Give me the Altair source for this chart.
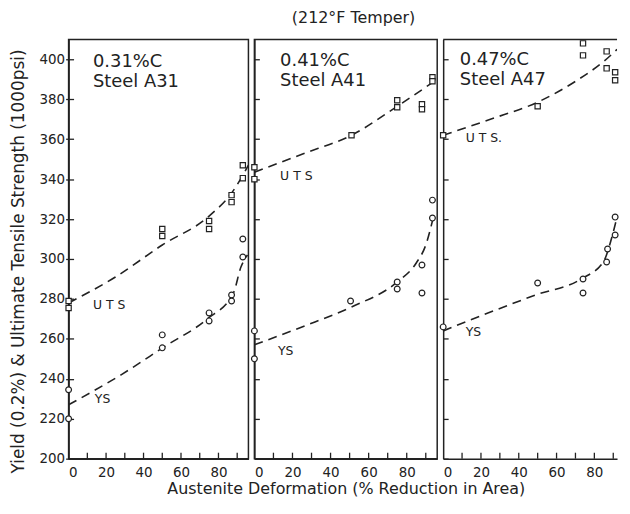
import altair as alt
import pandas as pd

# ---------------- data ----------------
y_ticks = [200, 220, 240, 260, 280, 300, 320, 340, 360, 380, 400]
x_ticks = [0, 10, 20, 30, 40, 50, 60, 70, 80, 90]
x_minor = [10, 20, 30, 40, 50, 60, 70, 80, 90]
x_max = [96, 96, 92]
panel_widths = [181, 184, 175]
PLOT_H = 422

carbon_text = ["0.31%C", "0.41%C", "0.47%C"]
steel_text = ["Steel A31", "Steel A41", "Steel A47"]
label_x = [13, 13.5, 8.8]
carbon_y = [396.2, 396.5, 397]
steel_y = [386.3, 386.5, 387]

uts_text = ["U T S", "U T S", "U T S."]
uts_label_x = [13, 13.5, 11.9]
uts_label_y = [277, 341.6, 360.6]
ys_label_x = [14, 12.4, 11.9]
ys_label_y = [230, 253.7, 263.5]

# measured points (UTS = squares, YS = circles)
a31_uts_x = [0, 0, 50, 50, 75, 75, 87, 87, 93, 93]
a31_uts_y = [279, 275.5, 315, 311.5, 319, 315, 332, 328.5, 347, 340.5]
a31_ys_x = [0, 0, 50, 50, 75, 75, 87, 87, 93, 93]
a31_ys_y = [234.5, 220, 262, 255.5, 273, 269, 282, 279, 310, 301]

a41_uts_x = [0, 0, 51, 75, 75, 88, 88, 93.5, 93.5]
a41_uts_y = [346, 340, 362, 379.5, 376, 377.5, 375, 391, 389]
a41_ys_x = [0, 0, 50.5, 75, 75, 88, 88, 93.5, 93.5]
a41_ys_y = [264, 250, 279, 288.5, 285, 297, 283, 329.5, 320.5]

a47_uts_x = [0, 50, 74, 74, 86.5, 86.5, 91, 91]
a47_uts_y = [362, 376.5, 408, 402, 404, 395.5, 393.5, 389.5]
a47_ys_x = [0, 50, 74, 74, 86.5, 87, 91, 91]
a47_ys_y = [266, 288, 290, 283, 298.5, 305, 312, 321]

# dashed fitted curves
a31_uts_cx = [0, 25, 50, 75, 87, 96]
a31_uts_cy = [278, 291, 307, 321.5, 333, 347]
a31_ys_cx = [0, 28, 51, 74, 88, 92, 95.5]
a31_ys_cy = [227, 242, 256, 270, 283, 296, 302]

a41_uts_cx = [0, 25, 52, 75, 96]
a41_uts_cy = [343.5, 352.5, 362.5, 376.5, 390]
a41_ys_cx = [0, 25, 51, 75, 85, 90, 94]
a41_ys_cy = [257, 266, 276, 288.5, 298, 307, 321]

a47_uts_cx = [0, 25, 51, 70, 85, 92]
a47_uts_cy = [362, 370, 379, 389, 399, 405]
a47_ys_cx = [0, 49, 73, 85, 89, 92]
a47_ys_cy = [264, 282, 290, 299, 310, 321]

points = [
    (a31_uts_x, a31_uts_y, a31_ys_x, a31_ys_y),
    (a41_uts_x, a41_uts_y, a41_ys_x, a41_ys_y),
    (a47_uts_x, a47_uts_y, a47_ys_x, a47_ys_y),
]
curves = [
    (a31_uts_cx, a31_uts_cy, a31_ys_cx, a31_ys_cy),
    (a41_uts_cx, a41_uts_cy, a41_ys_cx, a41_ys_cy),
    (a47_uts_cx, a47_uts_cy, a47_ys_cx, a47_ys_cy),
]

INK = "#222222"
FONT = "DejaVu Sans"
Y_TITLE = "Yield (0.2%) & Ultimate Tensile Strength (1000psi)"
X_TITLE = "Austenite Deformation (% Reduction in Area)"


def make_panel(i):
    first = i == 0
    middle = i == 1
    last = i == 2
    if first:
        yaxis = alt.Axis(values=y_ticks, title=Y_TITLE, titleFontSize=17,
                         titlePadding=12, titleY=223, tickSize=3, labelPadding=1,
                         grid=True, gridDash=[5, 1000])
    else:
        yaxis = alt.Axis(values=y_ticks, title=None, labels=False, ticks=False,
                         tickSize=0, grid=True, gridDash=[5, 1000])
    xaxis = alt.Axis(values=x_ticks, title=X_TITLE if middle else None,
                     titleFontSize=16, titlePadding=2,
                     labelExpr="datum.value % 20 == 0 && datum.value < 90 ? datum.label : ''",
                     ticks=False, tickSize=0, labelPadding=7, grid=False)
    x_enc = alt.X("x:Q", scale=alt.Scale(domain=[0, x_max[i]], nice=False, zero=False), axis=xaxis)
    y_enc = alt.Y("y:Q", scale=alt.Scale(domain=[200, 410], nice=False, zero=False), axis=yaxis)

    ux, uy, yx, yy = points[i]
    ucx, ucy, ycx, ycy = curves[i]
    curve_df = pd.DataFrame({
        "x": ucx + ycx,
        "y": ucy + ycy,
        "series": ["UTS"] * len(ucx) + ["YS"] * len(ycx),
    })
    uts_df = pd.DataFrame({"x": ux, "y": uy})
    ys_df = pd.DataFrame({"x": yx, "y": yy})
    head_df = pd.DataFrame({"x": [label_x[i], label_x[i]],
                            "y": [carbon_y[i], steel_y[i]],
                            "t": [carbon_text[i], steel_text[i]]})
    lab_df = pd.DataFrame({"x": [uts_label_x[i], ys_label_x[i]],
                           "y": [uts_label_y[i], ys_label_y[i]],
                           "t": [uts_text[i], "YS"]})
    tick_df = pd.DataFrame({"x": x_minor, "y": [200] * len(x_minor)})

    ticks = alt.Chart(tick_df).mark_rule(color=INK, strokeWidth=1.3).encode(
        x=x_enc, y=y_enc, y2=alt.value(PLOT_H - 6)
    )
    lines = alt.Chart(curve_df).mark_line(
        color=INK, strokeWidth=1.6, strokeDash=[9, 6], interpolate="monotone", clip=True
    ).encode(x=x_enc, y=y_enc, detail="series:N")
    sq = alt.Chart(uts_df).mark_point(
        shape="square", size=28, filled=True, fill="white", stroke=INK,
        strokeWidth=1.2, opacity=1
    ).encode(x=x_enc, y=y_enc)
    ci = alt.Chart(ys_df).mark_point(
        shape="circle", size=34, filled=True, fill="white", stroke=INK,
        strokeWidth=1.2, opacity=1
    ).encode(x=x_enc, y=y_enc)
    head = alt.Chart(head_df).mark_text(
        align="left", baseline="alphabetic", fontSize=18, font=FONT, color=INK
    ).encode(x=x_enc, y=y_enc, text="t:N")
    lab = alt.Chart(lab_df).mark_text(
        align="left", baseline="middle", fontSize=12.5, font=FONT, color=INK
    ).encode(x=x_enc, y=y_enc, text="t:N")

    layers = [ticks, lines, sq, ci, head, lab]
    if last:
        top_df = pd.DataFrame({"y": [410]})
        top = alt.Chart(top_df).mark_rule(color=INK, strokeWidth=1.5).encode(y=y_enc)
        layers.append(top)
    ch = alt.layer(*layers).properties(width=panel_widths[i], height=PLOT_H)
    if last:
        ch = ch.properties(view=alt.ViewBackground(stroke="transparent"))
    return ch


chart = alt.hconcat(make_panel(0), make_panel(1), make_panel(2), spacing=6, bounds="flush").resolve_scale(
    x="independent", y="independent"
).properties(
    title=alt.TitleParams(text="(212°F Temper)", anchor="middle", dx=39, offset=12,
                          fontSize=16, font=FONT, fontWeight="normal", color=INK),
    padding={"left": 0, "top": 0, "right": 0, "bottom": 0},
).configure_view(
    stroke=INK, strokeWidth=1.5
).configure_axis(
    labelFont=FONT, labelFontSize=13.5, labelColor=INK,
    domainColor=INK, domainWidth=1.5, tickColor=INK, tickWidth=1.3,
    gridColor=INK, gridOpacity=1, gridWidth=1.3,
    titleFont=FONT, titleFontWeight="normal", titleColor=INK,
)

chart.save("out.html", embed_options={"renderer": "svg", "actions": False})
